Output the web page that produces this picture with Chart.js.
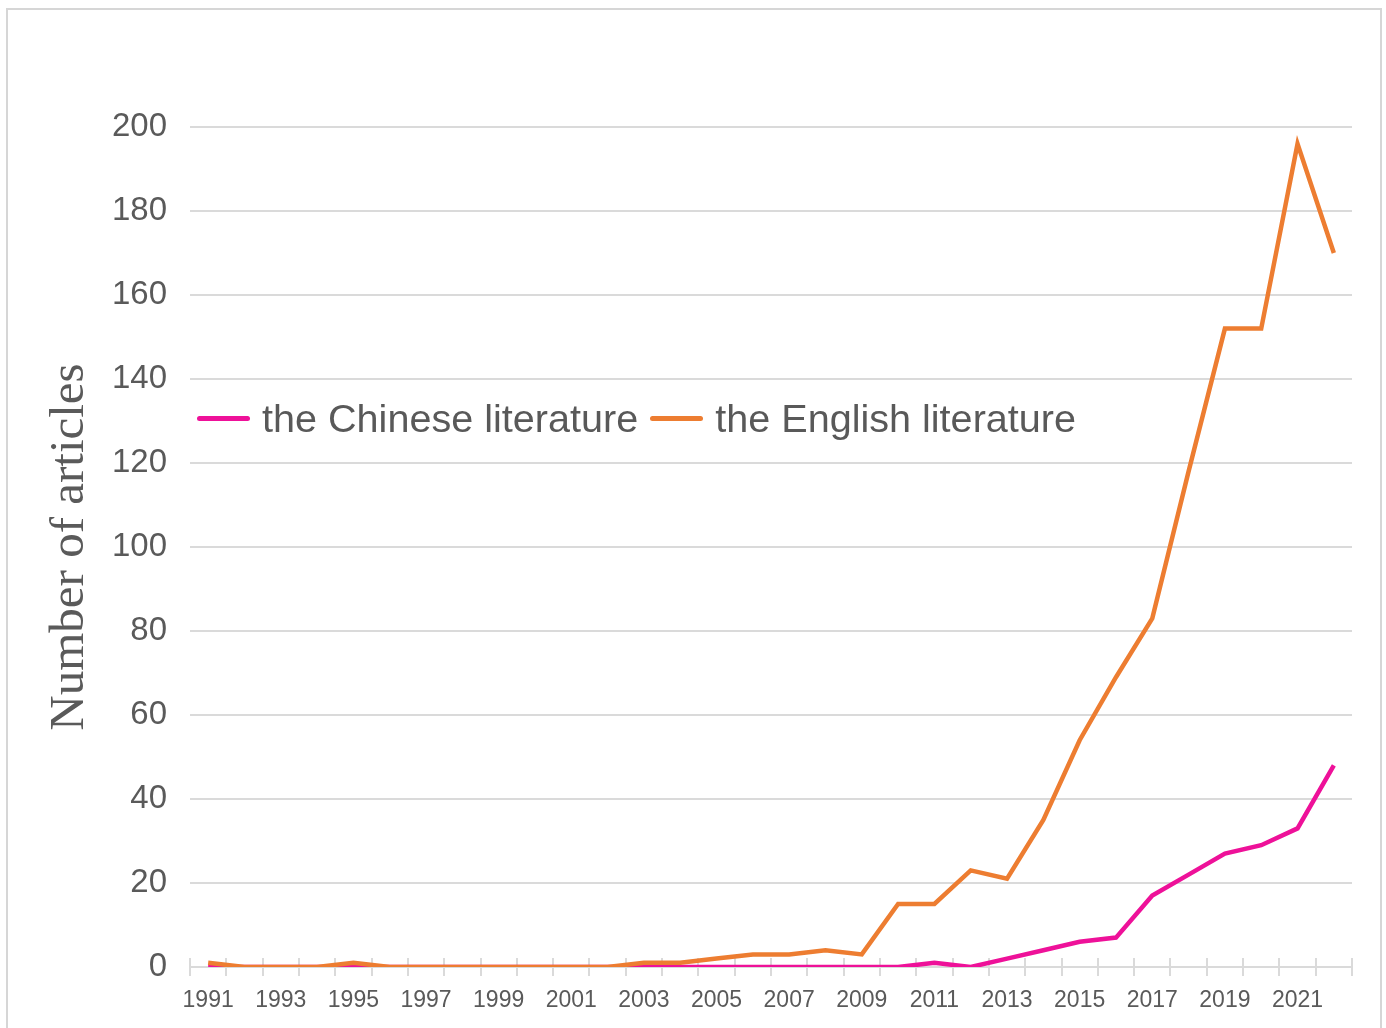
<!DOCTYPE html>
<html>
<head>
<meta charset="utf-8">
<script src="https://cdn.jsdelivr.net/npm/chart.js@4/dist/chart.umd.min.js"></script>
<style>
  html, body { margin: 0; padding: 0; background: #fff; overflow: hidden; }
  #frame {
    position: absolute; left: 6px; top: 8px;
    width: 1372px; height: 1040px;
    border: 2px solid #d6d6d6; background: #fff;
  }
  #wrap { position: absolute; left: 0; top: 0; width: 1372px; height: 1020px; }
  #legend {
    position: absolute; left: 189px; top: 386px;
    font-family: "Liberation Sans", Arial, sans-serif; font-size: 39.6px; color: #595959;
    display: flex; align-items: center; white-space: nowrap;
  }
  #legend .item { display: flex; align-items: center; margin-right: 12px; }
  #legend .swatch { width: 53px; height: 5px; border-radius: 3px; margin-right: 12px; }
</style>
</head>
<body>
<div id="frame">
  <div id="wrap"><canvas id="articlesChart"></canvas></div>
  <div id="legend"></div>
</div>
<script>
// données
var years = ['1991', '1992', '1993', '1994', '1995', '1996', '1997', '1998', '1999', '2000',
  '2001', '2002', '2003', '2004', '2005', '2006', '2007', '2008', '2009', '2010',
  '2011', '2012', '2013', '2014', '2015', '2016', '2017', '2018', '2019', '2020',
  '2021', '2022'];
var chineseCounts = [0, 0, 0, 0, 0, 0, 0, 0, 0, 0,
  0, 0, 0, 0, 0, 0, 0, 0, 0, 0,
  1, 0, 2, 4, 6, 7, 17, 22, 27, 29,
  33, 48];
var englishCounts = [1, 0, 0, 0, 1, 0, 0, 0, 0, 0,
  0, 0, 1, 1, 2, 3, 3, 4, 3, 15,
  15, 23, 21, 35, 54, 69, 83, 118, 152, 152,
  196, 170];
var yTicks = [0, 20, 40, 60, 80, 100, 120, 140, 160, 180, 200];
var seriesNames = ['the Chinese literature', 'the English literature'];
var pink = '#ee1199';
var orange = '#ed7d31';
var gridColor = '#dadada';
var textColor = '#5a5a5a';

// petits traits au-dessus de l'axe x
var upTicks = {
  id: 'upTicks',
  beforeDatasetsDraw: function (chart) {
    var x = chart.scales.x, y0 = chart.scales.y.getPixelForValue(0);
    var ctx = chart.ctx;
    ctx.save();
    ctx.strokeStyle = gridColor;
    ctx.lineWidth = 2;
    ctx.beginPath();
    for (var i = 0; i <= years.length; i++) {
      var px = Math.round(x.getPixelForValue(i - 0.5));
      ctx.moveTo(px, y0 - 9);
      ctx.lineTo(px, y0);
    }
    ctx.stroke();
    ctx.restore();
  }
};

var chartElement = document.getElementById('articlesChart');
var articlesChart = new Chart(chartElement, {
  type: 'line',
  data: {
    labels: years,
    datasets: [{
      label: seriesNames[0],
      data: chineseCounts,
      borderColor: pink,
      backgroundColor: pink,
      borderWidth: 4.5,
      pointRadius: 0,
      tension: 0,
      order: 1
    }, {
      label: seriesNames[1],
      data: englishCounts,
      borderColor: orange,
      backgroundColor: orange,
      borderWidth: 4.5,
      pointRadius: 0,
      tension: 0,
      order: 0
    }]
  },
  options: {
    responsive: true,
    maintainAspectRatio: false,
    animation: false,
    layout: { padding: { top: 117, right: 28, bottom: 19, left: 0 } },
    plugins: {
      legend: { display: false },
      tooltip: { enabled: false }
    },
    scales: {
      x: {
        offset: true,
        grid: { offset: true, drawOnChartArea: false, drawTicks: true, tickLength: 9, color: gridColor, lineWidth: 2 },
        border: { display: true, color: gridColor, width: 2 },
        ticks: {
          autoSkip: false, maxRotation: 0, padding: 11, color: textColor,
          font: { family: '"Liberation Sans", Arial, sans-serif', size: 23 },
          callback: function (v, i) { return i % 2 === 0 ? years[i] : ''; }
        },
        afterFit: function (scale) { scale.height = 44; }
      },
      y: {
        min: 0, max: 200,
        afterBuildTicks: function (scale) { scale.ticks = yTicks.map(function (v) { return { value: v }; }); },
        grid: { drawTicks: false, color: gridColor, lineWidth: 2 },
        border: { display: false },
        ticks: {
          padding: 23, color: textColor,
          font: { family: '"Liberation Sans", Arial, sans-serif', size: 33 }
        },
        title: {
          display: true, text: 'Number of articles', color: textColor,
          padding: { top: 33, bottom: 0 },
          font: { family: '"Liberation Serif", "Times New Roman", serif', size: 49 }
        },
        afterFit: function (scale) { scale.width = 182; }
      }
    }
  },
  plugins: [upTicks]
});

// légende en HTML
var legendEl = document.getElementById('legend');
[[seriesNames[0], pink], [seriesNames[1], orange]].forEach(function (s) {
  var item = document.createElement('div');
  item.className = 'item';
  var sw = document.createElement('span');
  sw.className = 'swatch';
  sw.style.background = s[1];
  var txt = document.createElement('span');
  txt.textContent = s[0];
  item.appendChild(sw);
  item.appendChild(txt);
  legendEl.appendChild(item);
});
</script>
</body>
</html>
